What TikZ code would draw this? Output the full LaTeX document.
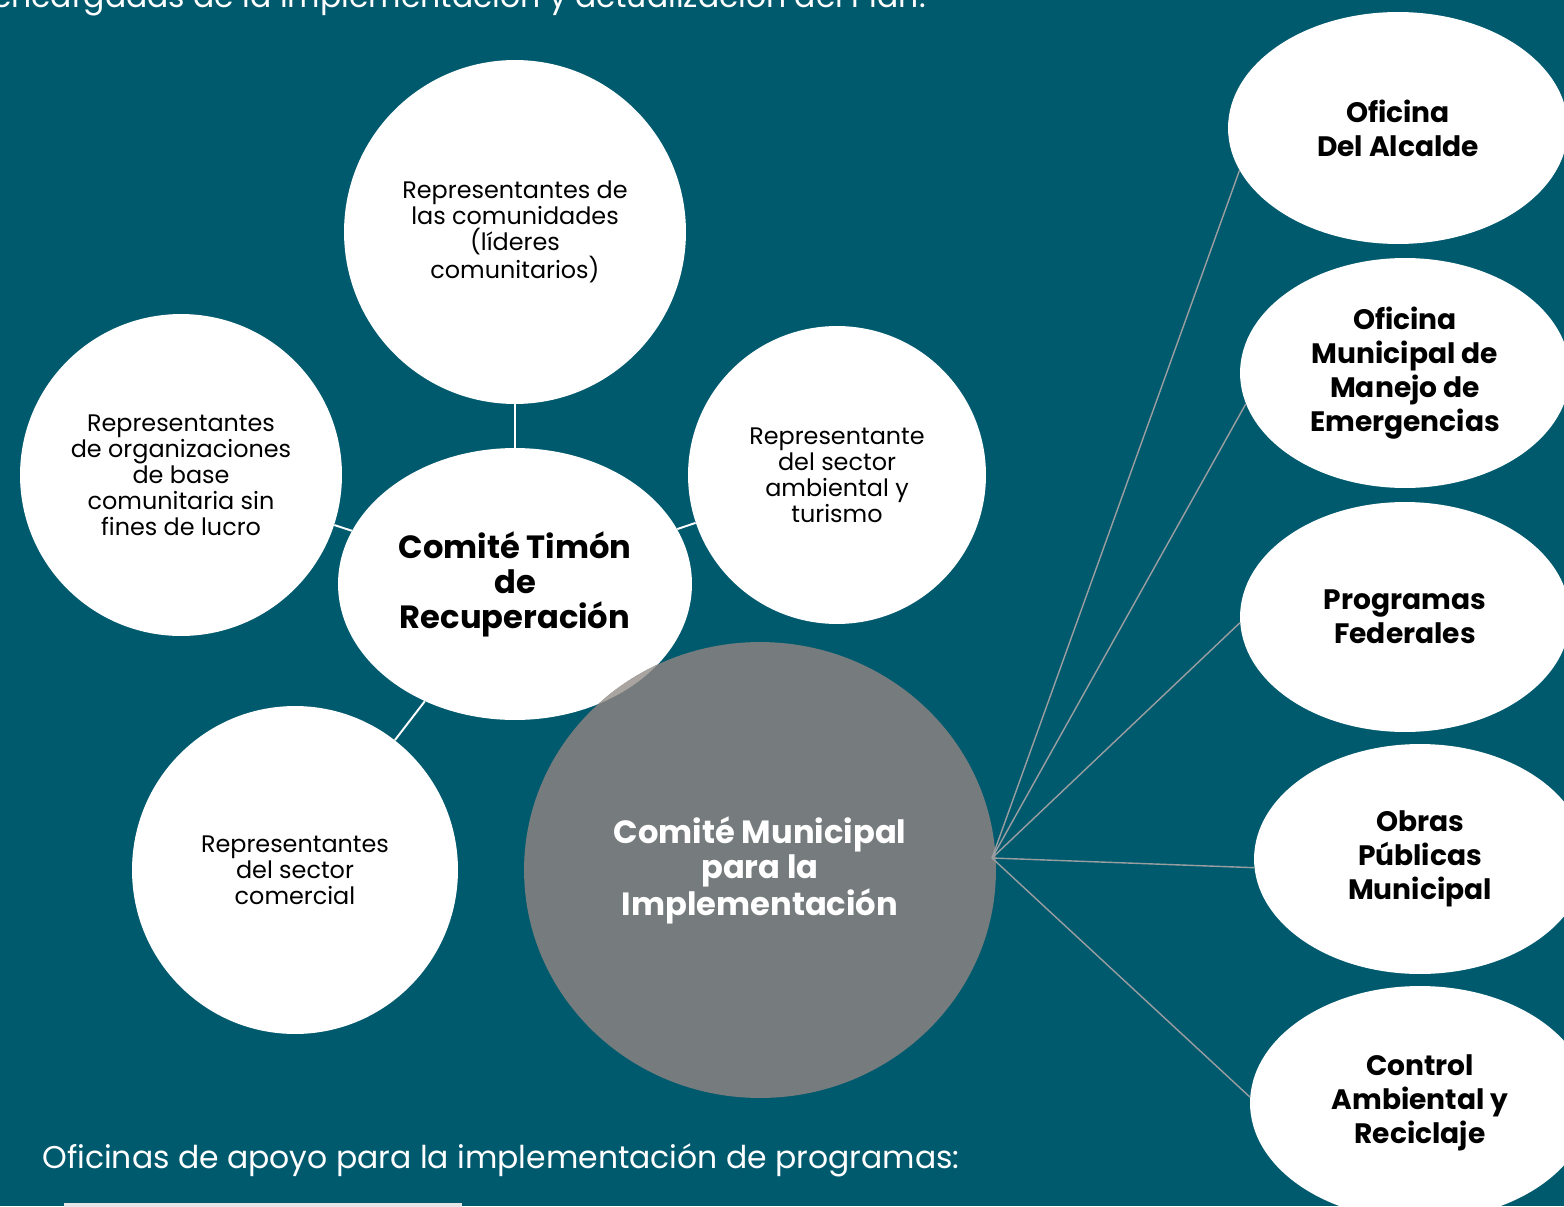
\documentclass[tikz,border=0pt]{standalone}
\usepackage{fontspec}
\setmainfont{Poppins}
\usepackage{tikz}
\usetikzlibrary{shapes.geometric}
\definecolor{fondo}{HTML}{005A6E}
\definecolor{gris}{HTML}{767C7E}
\definecolor{linea}{HTML}{9B9EA0}
\definecolor{lente}{HTML}{A9A4A0}
\definecolor{barra}{HTML}{E6E6E6}

\begin{document}
\begin{tikzpicture}[x=0.02cm,y=-0.02cm,
    burbuja/.style={ellipse,fill=white,inner sep=0pt,align=center,text=black},
    txtrep/.style={font=\fontsize{13.6}{14.8}\selectfont},
    txtcomite/.style={font=\fontsize{18.3}{19.9}\selectfont\bfseries},
    txtofi/.style={font=\fontsize{16}{19.3}\selectfont\bfseries},
    txtpie/.style={font=\fontsize{17.9}{20}\selectfont,text=white},
    enlace/.style={draw=white,line width=1.1pt},
    rayo/.style={draw=linea,line width=0.8pt}]
    \useasboundingbox (0,0) rectangle (1564,1206);
    \clip (0,0) rectangle (1564,1206);
    \fill[fondo] (0,0) rectangle (1564,1206);
    % textos sueltos
    \node[txtpie,anchor=base east,inner sep=0pt] (titulo) at (926,8) {encargadas de la implementación y actualización del Plan.};
    \node[txtpie,anchor=base west,inner sep=0pt] (apoyo) at (42,1168) {Oficinas de apoyo para la implementación de programas:};
    \fill[barra] (64,1203) rectangle (462,1212);
    % comite timon y representantes
    \node[burbuja,txtrep,minimum width=6.84cm,minimum height=6.88cm] (comunidades) at (515,232) {Representantes de\\las comunidades\\(líderes\\comunitarios)};
    \node[burbuja,txtrep,minimum width=6.44cm,minimum height=6.44cm] (organizaciones) at (181,475) {Representantes\\de organizaciones\\de base\\comunitaria sin\\fines de lucro};
    \node[burbuja,txtrep,minimum width=5.96cm,minimum height=5.96cm] (ambiental) at (837,475) {Representante\\del sector\\ambiental y\\turismo};
    \node[burbuja,txtrep,minimum width=6.52cm,minimum height=6.56cm] (comercial) at (295,870) {Representantes\\del sector\\comercial};
    \node[burbuja,txtcomite,minimum width=7.08cm,minimum height=5.44cm] (timon) at (515,584) {Comité Timón\\de\\Recuperación};
    \draw[enlace] (comunidades) -- (timon);
    \draw[enlace] (organizaciones) -- (timon);
    \draw[enlace] (ambiental) -- (timon);
    \draw[enlace] (comercial) -- (timon);
    % comite municipal
    \node[burbuja,txtcomite,fill=gris,text=white,minimum width=9.44cm,minimum height=9.12cm] (municipal) at (760,870) {Comité Municipal\\para la\\Implementación};
    \begin{scope}
        \clip (760,870) ellipse [x radius=4.72cm,y radius=4.56cm];
        \fill[lente] (515,584) ellipse [x radius=3.54cm,y radius=2.72cm];
    \end{scope}
    % oficinas de apoyo
    \node[burbuja,txtofi,minimum width=6.8cm,minimum height=4.64cm] (alcalde) at (1398,128) {Oficina\\Del Alcalde};
    \node[burbuja,txtofi,minimum width=6.6cm,minimum height=4.6cm] (emergencias) at (1405,373) {Oficina\\Municipal de\\Manejo de\\Emergencias};
    \node[burbuja,txtofi,minimum width=6.6cm,minimum height=4.6cm] (federales) at (1405,617) {Programas\\Federales};
    \node[burbuja,txtofi,minimum width=6.64cm,minimum height=4.6cm] (obras) at (1420,859) {Obras\\Públicas\\Municipal};
    \node[burbuja,txtofi,minimum width=6.8cm,minimum height=4.68cm] (reciclaje) at (1420,1103) {Control\\Ambiental y\\Reciclaje};
    \coordinate (eje) at (992,858);
    \draw[rayo] (eje) -- (alcalde.195);
    \draw[rayo] (eje) -- (emergencias.191);
    \draw[rayo] (eje) -- (federales.182);
    \draw[rayo] (eje) -- (obras.183);
    \draw[rayo] (eje) -- (reciclaje.178);
\end{tikzpicture}
\end{document}
